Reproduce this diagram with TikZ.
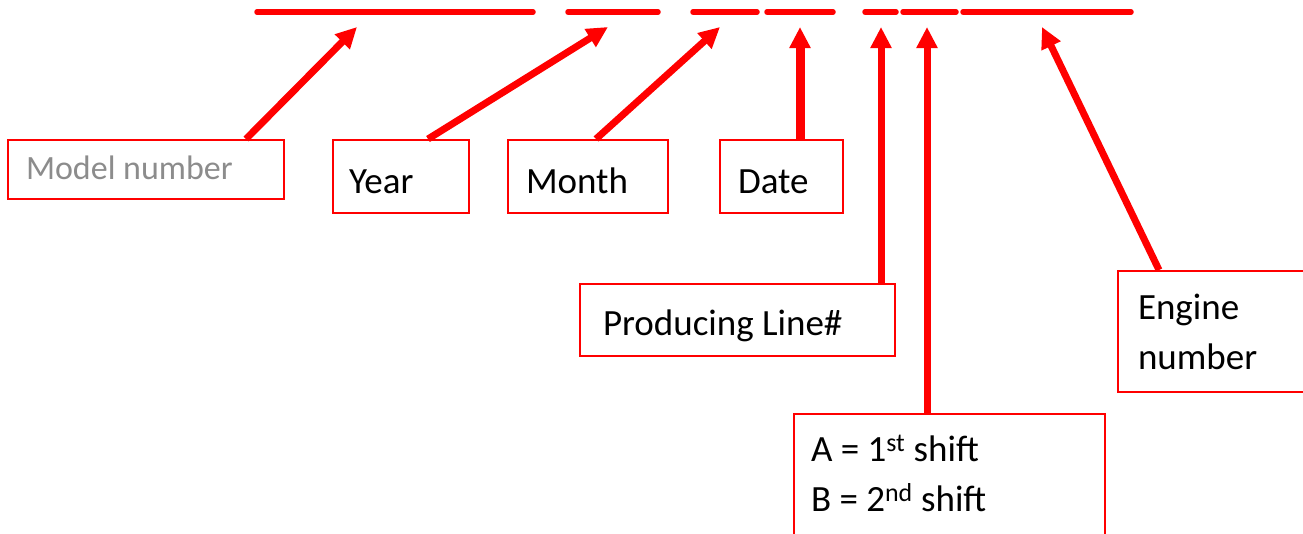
\documentclass[tikz,border=0pt]{standalone}
\usepackage{fontspec}
\setmainfont{Carlito}
\usetikzlibrary{arrows.meta}
\definecolor{codered}{RGB}{255,0,0}
\definecolor{labelgray}{RGB}{140,140,140}
\begin{document}
\begin{tikzpicture}[x=1pt,y=-1pt,
  seg/.style={line width=5.5pt, draw=codered, line cap=round},
  arr/.style={line width=7pt, draw=codered, -{Triangle[length=21pt,width=20pt,fill=codered]}},
  box/.style={draw=codered, line width=2pt, inner ysep=0pt, anchor=north west,
              align=flush left, font=\fontsize{37}{50}\selectfont}]
\useasboundingbox (0,0) rectangle (1303,533);

% code field placeholders along the top
\coordinate (s1a) at (257,12);  \coordinate (s1b) at (533,12);
\coordinate (s2a) at (568,12);  \coordinate (s2b) at (658,12);
\coordinate (s3a) at (693,12);  \coordinate (s3b) at (757,12);
\coordinate (s4a) at (767,12);  \coordinate (s4b) at (833,12);
\coordinate (s5a) at (865,12);  \coordinate (s5b) at (896,12);
\coordinate (s6a) at (903,12);  \coordinate (s6b) at (956,12);
\coordinate (s7a) at (963,12);  \coordinate (s7b) at (1131,12);
\foreach \i in {1,...,7} \draw[seg] (s\i a) -- (s\i b);

% arrow targets under each field
\coordinate (t1) at (357,27);
\coordinate (t2) at (608,27);
\coordinate (t3) at (720,27);
\coordinate (t4) at (800,27);
\coordinate (t5) at (881,27);
\coordinate (t6) at (927,27);
\coordinate (t7) at (1042,27);

% label boxes
\node[box, text=labelgray, font=\fontsize{34}{44}\selectfont, inner xsep=18pt,
      text width=240pt, text height=39pt, text depth=20pt]
  (model) at (7,139) {Model number};
\node[box, inner xsep=16pt, text width=104pt, text height=53pt, text depth=20pt]
  (year) at (332,139) {Year};
\node[box, inner xsep=18pt, text width=124pt, text height=53pt, text depth=20pt]
  (month) at (507,139) {Month};
\node[box, inner xsep=18pt, text width=87pt, text height=53pt, text depth=20pt]
  (date) at (719,139) {Date};
\node[box, inner xsep=23pt, text width=269pt, text height=51pt, text depth=21pt]
  (line) at (579,283) {Producing Line\#};
\node[box, inner xsep=17pt, text width=277pt, text height=47pt, text depth=85pt]
  (shift) at (793,413) {A = 1\textsuperscript{st} shift\\B = 2\textsuperscript{nd} shift};
\node[box, inner xsep=20pt, text width=180pt, text height=48pt, text depth=73pt]
  (engine) at (1117,270) {Engine\\number};

% connectors
\draw[arr] ([xshift=100pt]model.north) -- (t1);
\draw[arr] ([xshift=27pt]year.north) -- (t2);
\draw[arr] ([xshift=8pt]month.north) -- (t3);
\draw[arr, line width=9pt] (date.north -| t4) -- (t4);
\draw[arr] (line.north -| t5) -- (t5);
\draw[arr] (shift.north -| t6) -- (t6);
\draw[arr] ([xshift=-69pt]engine.north) -- (t7);
\end{tikzpicture}
\end{document}
